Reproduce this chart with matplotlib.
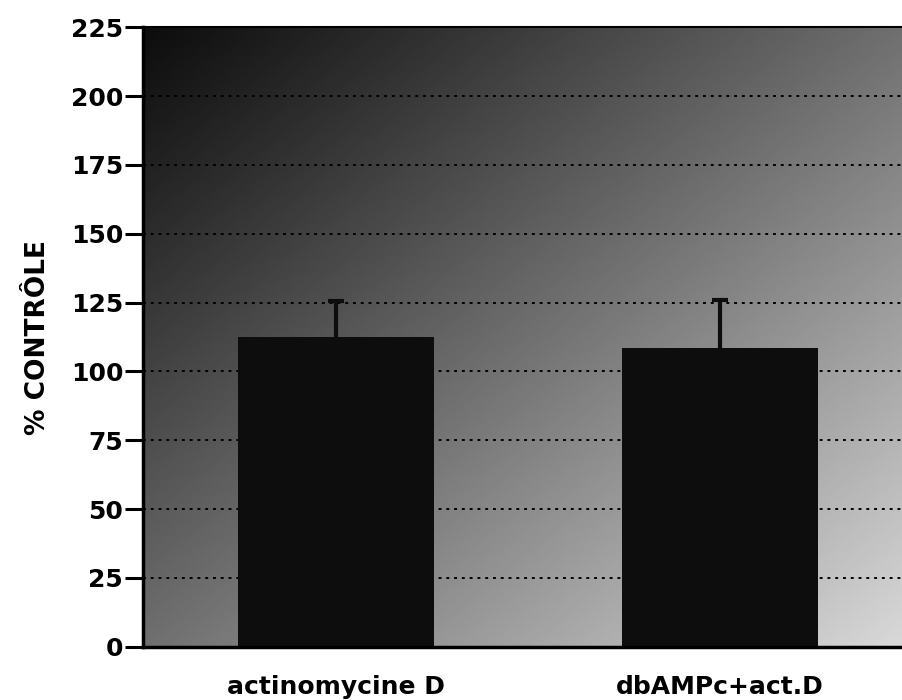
import numpy as np
import matplotlib.pyplot as plt

categories = ["actinomycine D", "dbAMPc+act.D"]
values = [112.5, 108.5]
errors_up = [13.0, 17.5]
yticks = [0, 25, 50, 75, 100, 125, 150, 175, 200, 225]

fig = plt.figure(figsize=(9.03, 7.0), dpi=100)
ax = fig.add_axes([0.158, 0.076, 0.842, 0.885])

# diagonal gradient background, dark at top left, light at bottom right
gx, gy = np.meshgrid(np.linspace(0, 1, 400), np.linspace(0, 1, 400))
t = (gx + gy) / 2.0
shade = 0.05 + 0.80 * np.clip(t, 0, 1) ** 1.05
ax.imshow(shade, cmap="gray", vmin=0, vmax=1, extent=[0, 1, 0, 1],
          transform=ax.transAxes, origin="upper", aspect="auto", zorder=0,
          interpolation="bilinear")

x = np.arange(len(categories))
for yv in yticks[1:-1]:
    ax.axhline(yv, color="black", linestyle=(0, (1.5, 2.5)), linewidth=1.4, zorder=1)

eb = ax.errorbar(x, values, yerr=[[0] * len(x), errors_up], fmt="none",
                 ecolor="#0d0d0d", elinewidth=3, capsize=6, capthick=3, zorder=1.5)
eb[1][0].set_visible(False)  # only the upper cap
ax.bar(x, values, width=0.51, color="#0d0d0d", zorder=2)

ax.set_xlim(-0.503, 1.477)
ax.set_ylim(0, 225)
ax.set_yticks(yticks)
ax.set_yticklabels([str(v) for v in yticks], fontsize=18, fontweight="bold")
ax.tick_params(axis="y", direction="out", length=13, width=2.2, pad=1)
ax.set_xticks(x)
ax.set_xticklabels(categories, fontsize=18, fontweight="bold")
ax.tick_params(axis="x", length=0, pad=20)
ax.set_ylabel("% CONTRÔLE", fontsize=19, fontweight="bold", labelpad=14)

for s in ["left", "bottom"]:
    ax.spines[s].set_linewidth(2.5)
ax.spines["top"].set_linewidth(1.5)
ax.spines["right"].set_visible(False)

plt.savefig("out.png", dpi=100)
